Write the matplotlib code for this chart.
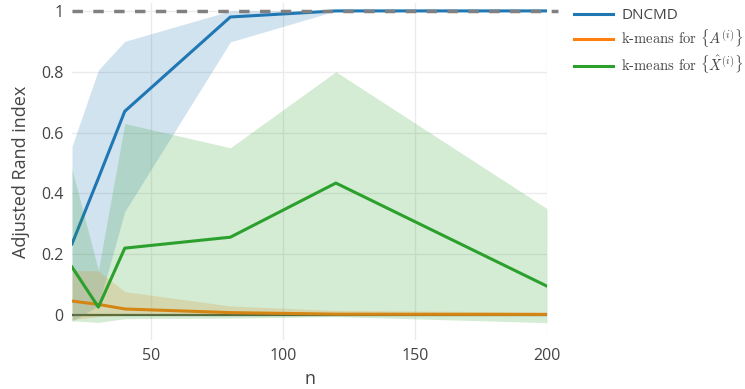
import numpy as np
import matplotlib
matplotlib.use("Agg")
import matplotlib.pyplot as plt

plt.rcParams["font.family"] = ["Open Sans", "DejaVu Sans"]
plt.rcParams["mathtext.fontset"] = "cm"

# sample sizes and ARI summaries (mean, lower / upper band)
n = [20, 30, 40, 80, 120, 200]

dncmd_mean = [0.234, 0.45, 0.67, 0.98, 1.0, 1.0]
dncmd_lo = [-0.02, 0.03, 0.34, 0.898, 1.0, 1.0]
dncmd_hi = [0.555, 0.806, 0.90, 1.0, 1.0, 1.0]

km_a_mean = [0.046, 0.035, 0.02, 0.008, 0.003, 0.002]
km_a_lo = [-0.015, -0.005, 0.0, 0.0, 0.0, 0.0]
km_a_hi = [0.147, 0.145, 0.077, 0.03, 0.015, 0.01]

km_x_mean = [0.158, 0.026, 0.22, 0.256, 0.434, 0.095]
km_x_lo = [-0.019, -0.024, -0.012, -0.01, -0.005, -0.025]
km_x_hi = [0.48, 0.148, 0.63, 0.55, 0.80, 0.35]

labels = ["DNCMD", r"k-means for $\{A^{(i)}\}$", r"k-means for $\{\hat{X}^{(i)}\}$"]
colors = ["#1f77b4", "#ff7f0e", "#2ca02c"]

fig = plt.figure(figsize=(7.45, 3.89), dpi=100)
ax = fig.add_axes([72 / 745, 1 - 340 / 389, 475 / 745, 337 / 389])

series = [(dncmd_mean, dncmd_lo, dncmd_hi),
          (km_a_mean, km_a_lo, km_a_hi),
          (km_x_mean, km_x_lo, km_x_hi)]
handles = []
for k, ((m, lo, hi), c, lab) in enumerate(zip(series, colors, labels)):
    # each trace: band first, then its line; later traces sit on top
    ax.fill_between(n, lo, hi, color=c, alpha=0.2, lw=0, zorder=2 + 2 * k)
    h, = ax.plot(n, m, color=c, lw=2.2, label=lab, zorder=3 + 2 * k)
    handles.append(h)

ax.axhline(0, color="#4a5a4a", lw=1.6, zorder=1)
ax.plot([20, 204], [1, 1], color="#808080", lw=2.5, ls=(0, (3, 3)),
        clip_on=False, zorder=9)

ax.set_xlim(20, 200)
ax.set_ylim(-0.082, 1.026)
ax.set_xticks([50, 100, 150, 200])
ax.set_yticks([0, 0.2, 0.4, 0.6, 0.8, 1.0])
ax.set_yticklabels(["0", "0.2", "0.4", "0.6", "0.8", "1"])
ax.grid(True, color="#ebebeb", lw=1, zorder=0)
ax.set_axisbelow(True)
for s in ax.spines.values():
    s.set_visible(False)
ax.tick_params(length=0, labelsize=11.5, colors="#444444", pad=6)
ax.set_xlabel("n", fontsize=13, color="#444444", labelpad=4)
ax.set_ylabel("Adjusted Rand index", fontsize=13, color="#444444", labelpad=8)

leg = fig.legend(handles=handles, loc="upper left", bbox_to_anchor=(560 / 745, 1.015),
                 frameon=False, fontsize=11, handlelength=2.6, labelspacing=0.3,
                 handletextpad=0.5)
for t in leg.get_texts():
    t.set_color("#444444")
for t in leg.get_texts()[1:]:
    t.set_fontfamily("cmr10")
    t.set_fontsize(10.5)

fig.savefig("out.png", dpi=100)
